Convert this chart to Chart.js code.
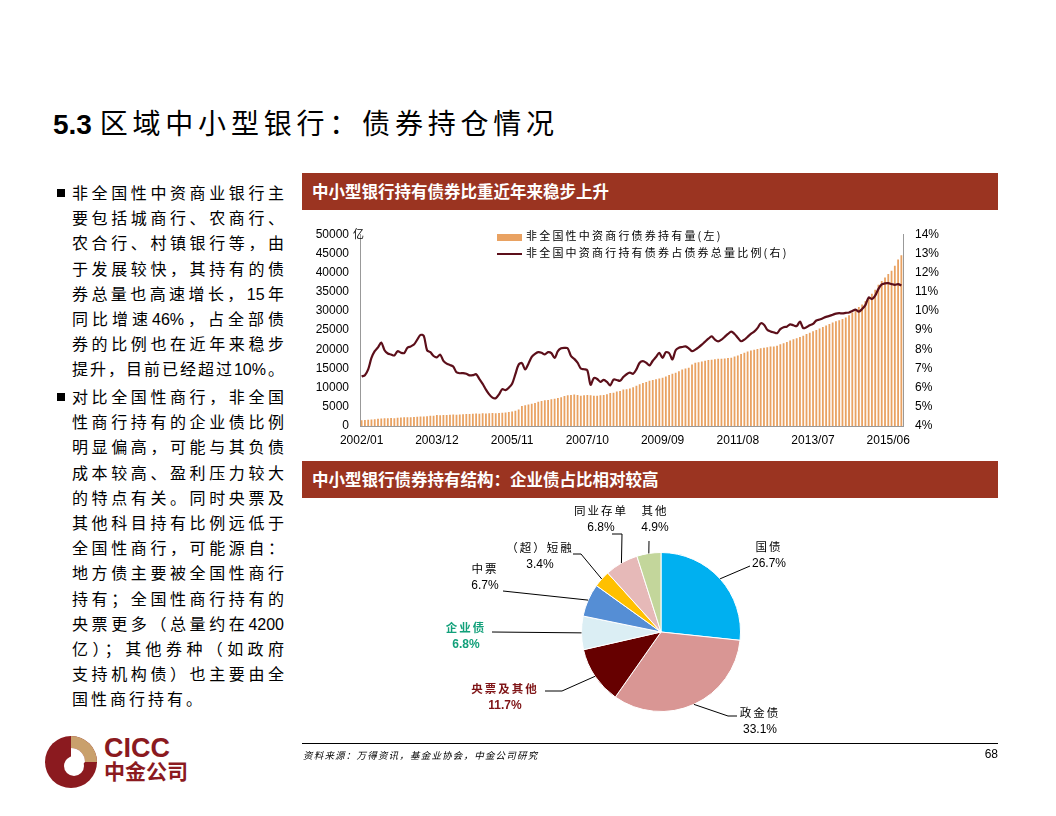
<!DOCTYPE html>
<html>
<head>
<meta charset="utf-8">
<script src="https://cdn.jsdelivr.net/npm/chart.js@4.4.1/dist/chart.umd.min.js"></script>
<style>
  body { margin: 0; background: #fff; }
  #page { position: relative; width: 1056px; height: 816px; overflow: hidden; background: #fff;
          font-family: "Liberation Sans", "Noto Sans CJK SC", sans-serif; color: #000; }
  .abs { position: absolute; }
  .title { left: 53px; top: 102px; white-space: nowrap; }
  .title .num { font-family: "Liberation Sans", sans-serif; font-weight: bold; font-size: 28px; }
  .title .zh { font-family: "Noto Sans CJK SC", sans-serif; font-size: 28px; letter-spacing: 4.8px; }
  .bar { background: #9B3421; color: #fff; font-family: "Noto Sans CJK SC", sans-serif; font-weight: bold;
         font-size: 16.5px; line-height: 37px; height: 37px; padding-left: 10px; box-sizing: border-box; width: 696px; left: 302px; }
  .para { left: 72px; width: 212px; font-size: 16px; line-height: 25.2px; }
  .para div { text-align: justify; text-align-last: justify; white-space: nowrap; }
  .para div.last { text-align-last: left; letter-spacing: 3px; }
  .bullet { left: 57px; width: 8px; height: 8px; background: #000; }
  .legend { left: 497px; font-family: "Noto Sans CJK SC", sans-serif; font-size: 11px; letter-spacing: 2.2px; white-space: nowrap; line-height: 14px; }
  .sw { display: inline-block; width: 25px; vertical-align: middle; margin-right: 4px; }
  .foot { left: 303px; top: 748px; font-family: "Noto Sans CJK SC", sans-serif; font-size: 9.5px; letter-spacing: 1.2px; font-style: italic; }
</style>
</head>
<body>
<div id="page">
  <div class="abs title"><span class="num">5.3 </span><span class="zh">区域中小型银行：债券持仓情况</span></div>

  <div class="abs bullet" style="top:189px"></div>
  <div class="abs para" style="top:181px">
    <div>非全国性中资商业银行主</div>
    <div>要包括城商行、农商行、</div>
    <div>农合行、村镇银行等，由</div>
    <div>于发展较快，其持有的债</div>
    <div>券总量也高速增长，15年</div>
    <div>同比增速46%，占全部债</div>
    <div>券的比例也在近年来稳步</div>
    <div>提升，目前已经超过10%。</div>
  </div>
  <div class="abs bullet" style="top:393px"></div>
  <div class="abs para" style="top:385px">
    <div>对比全国性商行，非全国</div>
    <div>性商行持有的企业债比例</div>
    <div>明显偏高，可能与其负债</div>
    <div>成本较高、盈利压力较大</div>
    <div>的特点有关。同时央票及</div>
    <div>其他科目持有比例远低于</div>
    <div>全国性商行，可能源自：</div>
    <div>地方债主要被全国性商行</div>
    <div>持有；全国性商行持有的</div>
    <div>央票更多（总量约在4200</div>
    <div>亿）；其他券种（如政府</div>
    <div>支持机构债）也主要由全</div>
    <div class="last">国性商行持有。</div>
  </div>

  <div class="abs bar" style="top:173px">中小型银行持有债券比重近年来稳步上升</div>
  <div class="abs" style="left:300px; top:215px; width:660px; height:241px;"><canvas id="lineChart"></canvas></div>
  <div class="abs" style="left:353px; top:225px; font-family:'Noto Sans CJK SC'; font-size:11px;">亿</div>
  <div class="abs legend" style="top:228px"><span class="sw" style="height:7px; background:#E9A262;"></span>非全国性中资商行债券持有量(左)</div>
  <div class="abs legend" style="top:245px"><span class="sw" style="height:2px; background:#5C0F1A;"></span>非全国中资商行持有债券占债券总量比例(右)</div>

  <div class="abs bar" style="top:461px">中小型银行债券持有结构：企业债占比相对较高</div>
  <div class="abs" style="left:420px; top:500px; width:480px; height:250px;"><canvas id="pieChart"></canvas></div>

  <div class="abs" style="left:302px; top:743px; width:696px; height:1px; background:#000;"></div>
  <div class="abs foot">资料来源：万得资讯，基金业协会，中金公司研究</div>
  <div class="abs" style="left:978px; top:747px; width:20px; text-align:right; font-size:12px;">68</div>

  <svg class="abs" style="left:43px; top:734px;" width="56" height="56" viewBox="0 0 56 56">
    <circle cx="28" cy="28" r="26" fill="#8B1A1F"/>
    <path d="M28 2 A26 26 0 0 1 54 28 L42 28 A14 14 0 0 0 28 14 Z" fill="#C9A06C"/>
    <circle cx="31" cy="32" r="10" fill="#fff"/>
    <path d="M28 14 L28 24 L40 30 L42 28 A14 14 0 0 0 28 14 Z" fill="#fff"/>
  </svg>
  <div class="abs" style="left:104px; top:733px; font-family:'Liberation Sans'; font-weight:bold; font-size:27px; color:#8B1A1F; letter-spacing:0px;">CICC</div>
  <div class="abs" style="left:104px; top:757px; font-family:'Noto Sans CJK SC'; font-weight:bold; font-size:21px; line-height:26px; color:#8B1A1F;">中金公司</div>
</div>

<script>
// top chart data: monthly 2002/01 - 2015/10
const months = [];
for (let y = 2002; y <= 2015; y++) {
  for (let m = 1; m <= 12; m++) {
    if (y === 2015 && m > 10) break;
    months.push(y + '/' + String(m).padStart(2, '0'));
  }
}
const xTickLabels = ['2002/01', '2003/12', '2005/11', '2007/10', '2009/09', '2011/08', '2013/07', '2015/06'];

// 非全国性中资商行债券持有量 (亿)
const holdings = [
  1500, 1550, 1600, 1700, 1750, 1900, 1950, 2000, 2050, 2100, 2050, 2150,
  2200, 2250, 2300, 2250, 2350, 2400, 2450, 2500, 2550, 2650, 2700, 2900,
  2800, 2850, 2900, 2950, 3000, 2950, 3000, 3050, 3100, 3150, 3200, 3250,
  3200, 3300, 3250, 3300, 3400, 3350, 3400, 3450, 3500, 3650, 3800, 4000,
  4300, 5200, 5400, 5600, 5800, 6000, 6300, 6500, 6700, 6800, 7000, 7100,
  7300, 7500, 7800, 8000, 8100, 8200, 8100, 7900, 8000, 8100, 8000, 7900,
  7900, 8000, 8100, 8300, 8600, 8700, 9000, 9100, 9500, 9600, 9800, 10100,
  10500, 10900, 11200, 11500, 11800, 12000, 12200, 12400, 12600, 12900, 13300, 13600,
  13900, 14300, 14700, 15000, 15200, 16000, 16500, 16600, 16800, 17000, 17200, 17300,
  17400, 17500, 17500, 17600, 17700, 17800, 18100, 18400, 18800, 19100, 19400, 19700,
  19900, 20100, 20300, 20400, 20500, 20700, 20700, 20900, 21300, 21600, 21900, 22300,
  22600, 22900, 23200, 23500, 24000, 24300, 24700, 25000, 25400, 25800, 26200, 26600,
  27000, 27300, 27600, 27900, 28300, 28900, 29600, 30200, 31000, 31700, 32500, 33400,
  34500, 35500, 36800, 37800, 38700, 39600, 40500, 41800, 43400, 44500
];

// 非全国中资商行持有债券占债券总量比例 (%)
const ratio = [
  6.58, 6.65, 6.95, 7.55, 7.90, 8.10, 8.35, 7.95, 7.78, 7.73, 7.68, 7.90,
  7.82, 7.80, 8.08, 8.15, 8.25, 8.50, 8.75, 8.70, 7.95, 7.85, 7.65, 7.58,
  7.72, 7.40, 7.25, 7.18, 7.10, 6.80, 6.75, 6.76, 6.72, 6.64, 6.65, 6.70,
  6.45, 6.20, 5.90, 5.65, 5.48, 5.45, 5.65, 5.92, 5.87, 6.00, 6.20, 6.70,
  7.20, 7.28, 6.95, 7.25, 7.60, 7.76, 7.85, 7.82, 7.73, 7.85, 7.80, 7.55,
  7.90, 8.05, 8.07, 8.05, 7.65, 7.50, 7.30, 7.00, 6.96, 6.90, 6.15, 6.50,
  6.45, 6.30, 6.40, 6.30, 6.12, 6.42, 6.40, 6.36, 6.55, 6.70, 6.78, 6.72,
  6.95, 7.30, 7.38, 7.30, 7.16, 7.40, 7.60, 7.81, 7.55, 7.85, 7.80, 7.47,
  7.95, 8.08, 8.12, 8.15, 8.05, 7.90, 7.98, 8.10, 8.24, 8.40, 8.55, 8.67,
  8.50, 8.41, 8.50, 8.65, 8.80, 8.92, 8.80, 8.60, 8.42, 8.50, 8.65, 8.80,
  8.92, 9.10, 9.35, 9.28, 9.02, 8.93, 8.88, 8.84, 9.05, 9.15, 9.18, 9.30,
  9.25, 9.21, 9.44, 9.10, 9.15, 9.25, 9.32, 9.50, 9.55, 9.62, 9.69, 9.74,
  9.80, 9.86, 9.88, 9.87, 9.90, 9.92, 10.00, 10.07, 9.96, 10.10, 10.30, 10.70,
  10.62, 10.80, 11.15, 11.38, 11.44, 11.45, 11.40, 11.36, 11.40, 11.32
];

// pie data
const pieLabels = ['国债', '政金债', '央票及其他', '企业债', '中票', '（超）短融', '同业存单', '其他'];
const pieValues = [26.7, 33.1, 11.7, 6.8, 6.7, 3.4, 6.8, 4.9];
const pieColors = ['#00B0F0', '#D99694', '#660000', '#DBEEF4', '#558ED5', '#FFC000', '#E6B9B8', '#C3D69B'];

const tickFont = { family: 'Liberation Sans', size: 12 };

new Chart(document.getElementById('lineChart'), {
  data: {
    labels: months,
    datasets: [
      {
        type: 'line',
        data: ratio,
        yAxisID: 'yR',
        borderColor: '#5C0F1A',
        borderWidth: 2.2,
        pointRadius: 0,
        tension: 0.3,
        order: 0
      },
      {
        type: 'bar',
        data: holdings,
        yAxisID: 'yL',
        backgroundColor: '#E9A262',
        barPercentage: 0.55,
        categoryPercentage: 1,
        order: 1
      }
    ]
  },
  options: {
    responsive: true,
    maintainAspectRatio: false,
    animation: false,
    layout: { padding: { top: 16 } },
    plugins: { legend: { display: false }, tooltip: { enabled: false } },
    scales: {
      x: {
        grid: { display: false, drawTicks: false },
        border: { color: '#999' },
        afterFit: s => { s.height = 30; },
        ticks: {
          autoSkip: false, maxRotation: 0, minRotation: 0, padding: 7,
          color: '#000', font: tickFont,
          callback: function (v, i) {
            const l = this.getLabelForValue(v);
            return xTickLabels.includes(l) ? l : '';
          }
        }
      },
      yL: {
        position: 'left', min: 0, max: 50000,
        grid: { display: false, drawTicks: false },
        border: { color: '#999' },
        afterFit: s => { s.width = 60; },
        ticks: { stepSize: 5000, padding: 11, color: '#000', font: tickFont, callback: v => String(v) }
      },
      yR: {
        position: 'right', min: 4, max: 14,
        grid: { display: false, drawTicks: false },
        border: { color: '#999' },
        afterFit: s => { s.width = 57; },
        ticks: { stepSize: 1, padding: 12, color: '#000', font: tickFont, callback: v => v + '%' }
      }
    }
  }
});

// label placement (page coords) for pie callouts
const PIE_X = 420, PIE_Y = 500;
const pieLayout = [
  { tx: 769, ty: 547, line: [[750, 566]] },
  { tx: 760, ty: 713, line: [[728, 716], [737, 716]] },
  { tx: 505, ty: 689, line: [[562, 691], [545, 691]], color: '#7F1416', bold: true },
  { tx: 466, ty: 628, line: [[492, 632]], color: '#12A07A', bold: true },
  { tx: 485, ty: 569, line: [[503, 591]] },
  { tx: 540, ty: 548, line: [[581, 554], [573, 554]] },
  { tx: 601, ty: 511, line: [[622, 534], [612, 534]] },
  { tx: 655, ty: 511, line: [[649, 541]] }
];

const pieCallouts = {
  id: 'pieCallouts',
  afterDatasetsDraw(chart) {
    const ctx = chart.ctx;
    const meta = chart.getDatasetMeta(0);
    ctx.save();
    meta.data.forEach((arc, i) => {
      const lay = pieLayout[i];
      const mid = (arc.startAngle + arc.endAngle) / 2;
      const sx = arc.x + Math.cos(mid) * arc.outerRadius;
      const sy = arc.y + Math.sin(mid) * arc.outerRadius;
      ctx.beginPath();
      ctx.moveTo(sx, sy);
      lay.line.forEach(p => ctx.lineTo(p[0] - PIE_X, p[1] - PIE_Y));
      ctx.strokeStyle = '#000';
      ctx.lineWidth = 1;
      ctx.stroke();

      const col = lay.color || '#000';
      ctx.fillStyle = col;
      ctx.textAlign = 'center';
      ctx.textBaseline = 'middle';
      ctx.letterSpacing = '2px';
      ctx.font = (lay.bold ? 'bold ' : '') + '11.5px "Noto Sans CJK SC"';
      ctx.fillText(pieLabels[i], lay.tx - PIE_X, lay.ty - PIE_Y);
      ctx.letterSpacing = '0px';
      ctx.font = (lay.bold ? 'bold ' : '') + '12px "Liberation Sans"';
      ctx.fillText(pieValues[i].toFixed(1) + '%', lay.tx - PIE_X, lay.ty + 17 - PIE_Y);
    });
    ctx.restore();
  }
};

new Chart(document.getElementById('pieChart'), {
  type: 'pie',
  data: {
    labels: pieLabels,
    datasets: [{
      data: pieValues,
      backgroundColor: pieColors,
      borderColor: '#fff',
      borderWidth: 1
    }]
  },
  options: {
    responsive: true,
    maintainAspectRatio: false,
    animation: false,
    layout: { padding: { left: 161, right: 159, top: 52, bottom: 38 } },
    plugins: { legend: { display: false }, tooltip: { enabled: false } }
  },
  plugins: [pieCallouts]
});
</script>
</body>
</html>
